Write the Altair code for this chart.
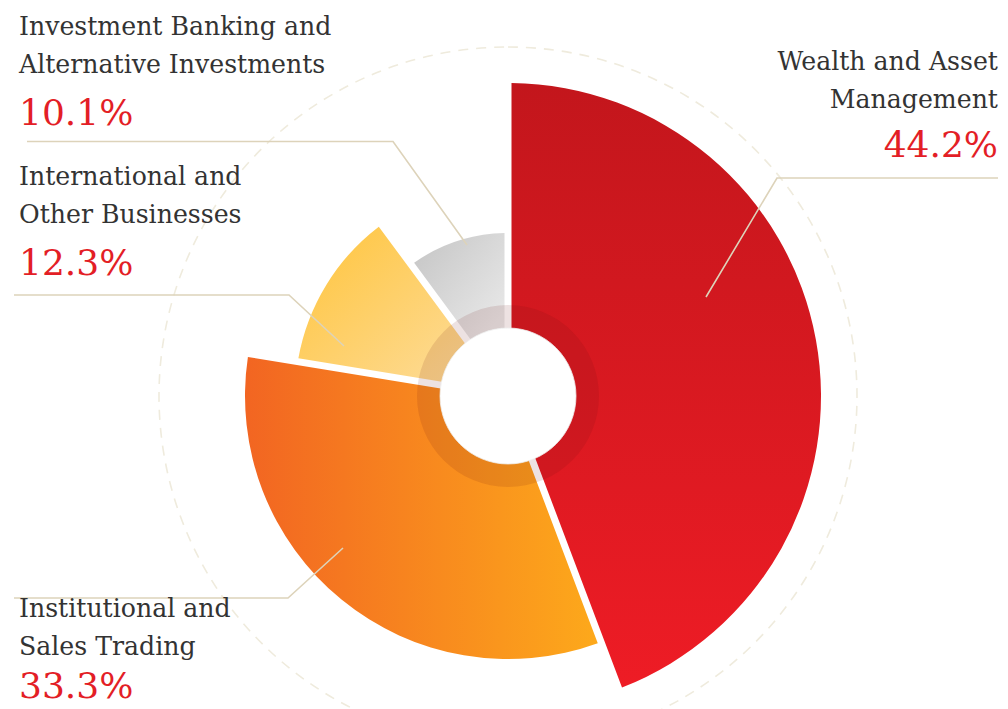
import math
import altair as alt
import pandas as pd

# ---------------- data ----------------
categories = [
    "Wealth and Asset Management",
    "Institutional and Sales Trading",
    "International and Other Businesses",
    "Investment Banking and Alternative Investments",
]
label_text = [
    "Wealth and Asset\nManagement",
    "Institutional and\nSales Trading",
    "International and\nOther Businesses",
    "Investment Banking and\nAlternative Investments",
]
values = [44.2, 33.3, 12.3, 10.1]

# ---------------- layout / style ----------------
W, H = 992, 701          # chart size
CX, CY = 500, 388        # pie centre in chart pixels
R_MIN, R_MAX = 163, 313  # outer radius range (by rank)
R_INNER = 60
GAP = 7.0
TAU = 2 * math.pi
SERIF = "DejaVu Serif"

slice_style = {
    categories[0]: ("#C3161C", "#EE1C25", 0, 1),
    categories[1]: ("#F26522", "#FDA91B", 1, 0),
    categories[2]: ("#FFC43A", "#FDDC9A", 1, 1),
    categories[3]: ("#C4C4C4", "#EDEDED", 1, 1),
}

# label + leader-line layout in page pixels
label_layout = {
    categories[0]: dict(align="right", tx=998, ty=70, py=157,
                        line=[(998, 178), (777, 178), (706, 297)]),
    categories[1]: dict(align="left", tx=19, ty=617, py=698,
                        line=[(14, 598), (288, 598), (343, 548)]),
    categories[2]: dict(align="left", tx=19, ty=185, py=275,
                        line=[(14, 295), (289, 295), (344, 346)]),
    categories[3]: dict(align="left", tx=19, ty=35, py=125,
                        line=[(27, 141.5), (393, 141.5), (467, 245)]),
}

# ---------------- tables ----------------
df = pd.DataFrame({"category": categories, "value": values, "label": label_text})
df["end"] = df["value"].cumsum()
df["start"] = df["end"] - df["value"]
df["rank"] = df["value"].rank()
total = float(df["value"].sum())

text_rows = []
line_rows = []
for c, lab, v in zip(categories, label_text, values):
    L = label_layout[c]
    text_rows.append(dict(category=c, label=lab, pct=f"{v:.1f}%", align=L["align"],
                          tx=L["tx"], ty=L["ty"], py=L["py"]))
    for k, (x, y) in enumerate(L["line"]):
        line_rows.append(dict(category=c, k=k, x=x, y=y))
tdf = pd.DataFrame(text_rows)
ldf = pd.DataFrame(line_rows)

xs = alt.Scale(domain=[8, 8 + W], nice=False, zero=False)
ys = alt.Scale(domain=[8, 8 + H], nice=False, zero=False, reverse=True)
theta_scale = alt.Scale(domain=[0, total], range=[0, TAU])
radius_scale = alt.Scale(type="linear", domain=[1, 4], range=[R_MIN, R_MAX], zero=False)

one = alt.Data(values=[{"a": 1}])

# dashed guide circle
guide = alt.Chart(one).mark_arc(
    radius=349, theta=0, theta2=TAU, filled=False,
    stroke="#EFEBDD", strokeWidth=1.6, strokeDash=[10, 8]
).encode(x=alt.value(CX), y=alt.value(CY))


def grad(c0, c1, x2, y2):
    return alt.LinearGradient(
        gradient="linear",
        stops=[alt.GradientStop(color=c0, offset=0), alt.GradientStop(color=c1, offset=1)],
        x1=0, y1=0, x2=x2, y2=y2,
    )


slices = []
for c, rk in zip(categories, df["rank"]):
    c0, c1, gx, gy = slice_style[c]
    r_out = R_MIN + (rk - 1) * (R_MAX - R_MIN) / 3
    rp = math.sqrt(r_out ** 2 + R_INNER ** 2)
    pad = 2 * math.asin((GAP / 2) / rp)
    slices.append(
        alt.Chart(df)
        .transform_filter(alt.datum.category == c)
        .mark_arc(fill=grad(c0, c1, gx, gy), padAngle=pad, radius2=R_INNER)
        .encode(
            theta=alt.Theta("start:Q", stack=None, scale=theta_scale),
            theta2=alt.Theta2("end:Q"),
            radius=alt.Radius("rank:Q", scale=radius_scale),
            x=alt.value(CX),
            y=alt.value(CY),
        )
    )

ring = alt.Chart(one).mark_arc(
    radius=91, radius2=68, theta=0, theta2=TAU, fill="#6E0E10", fillOpacity=0.12
).encode(x=alt.value(CX), y=alt.value(CY))

hole = alt.Chart(one).mark_arc(
    radius=68, theta=0, theta2=TAU, fill="#FFFFFF", stroke="#EDEDED", strokeWidth=0.8
).encode(x=alt.value(CX), y=alt.value(CY))

leaders = alt.Chart(ldf).mark_line(color="#DDD3BA", strokeWidth=1.6).encode(
    x=alt.X("x:Q", scale=xs, axis=None),
    y=alt.Y("y:Q", scale=ys, axis=None),
    detail="category:N",
    order="k:Q",
)

texts = []
for al in ["left", "right"]:
    base = alt.Chart(tdf).transform_filter(alt.datum.align == al)
    texts.append(
        base.mark_text(align=al, baseline="alphabetic", font=SERIF,
                       fontSize=25.2, color="#333333", lineBreak="\n", lineHeight=38)
        .encode(x=alt.X("tx:Q", scale=xs, axis=None),
                y=alt.Y("ty:Q", scale=ys, axis=None),
                text="label:N")
    )
    texts.append(
        base.mark_text(align=al, baseline="alphabetic", font=SERIF,
                       fontSize=36, color="#E31E26")
        .encode(x=alt.X("tx:Q", scale=xs, axis=None),
                y=alt.Y("py:Q", scale=ys, axis=None),
                text="pct:N")
    )

chart = alt.layer(guide, *slices, ring, hole, leaders, *texts).properties(
    width=W, height=H, padding=0,
    autosize=alt.AutoSizeParams(type="none"),
    background="#FFFFFF",
).configure_view(strokeWidth=0)

chart.save("out.html", embed_options={"renderer": "svg", "actions": False})
